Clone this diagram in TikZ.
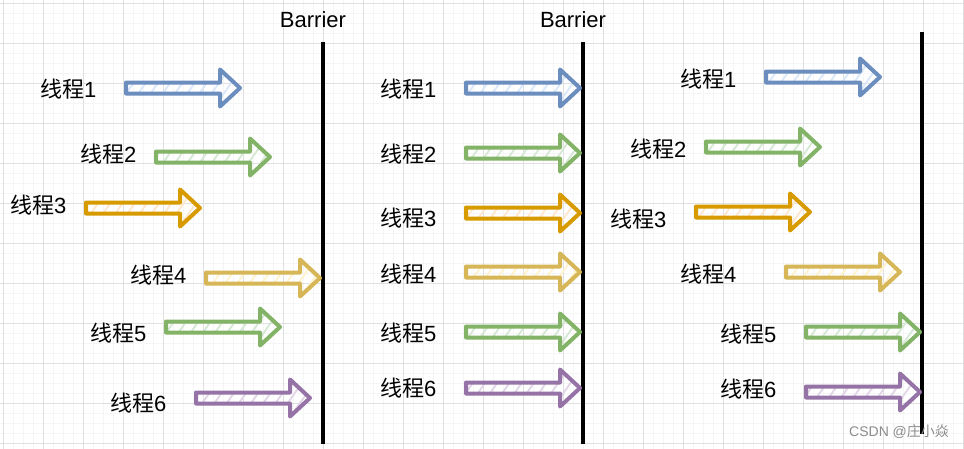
\documentclass[tikz,border=0pt]{standalone}
\usepackage{fontspec}
\setmainfont{Liberation Sans}
\newfontfamily\cjk{Noto Sans CJK SC}
\usetikzlibrary{patterns.meta,positioning}

\definecolor{bluestroke}{HTML}{6C8EBF}  \definecolor{bluefill}{HTML}{DAE8FC}
\definecolor{greenstroke}{HTML}{82B366} \definecolor{greenfill}{HTML}{D5E8D4}
\definecolor{orangestroke}{HTML}{D79B00}\definecolor{orangefill}{HTML}{FFE6CC}
\definecolor{yellowstroke}{HTML}{D6B656}\definecolor{yellowfill}{HTML}{FFF2CC}
\definecolor{purplestroke}{HTML}{9673A6}\definecolor{purplefill}{HTML}{E1D5E7}

\tikzset{
  minorgrid/.style={draw=black!4,line width=.8pt},
  majorgrid/.style={draw=black!12,line width=.8pt},
  threadlabel/.style={anchor=west,inner sep=0pt,font=\fontsize{22}{26}\selectfont},
  barrierlabel/.style={inner sep=0pt,font=\fontsize{22}{26}\selectfont},
  barrier/.style={line width=4pt,black},
  threadarrow/.style={line width=4pt,line join=round,draw=#1stroke,
    pattern={Lines[angle=55,distance=10pt,line width=1.8pt]},pattern color=#1fill}
}

% arrow with its left end at (#1,#2)
\newcommand\thrarrow[3]{%
  \draw[threadarrow=#3] (#1+2,#2-5.5) -- ++(94,0) -- ++(0,-13) -- ++(20,18.5)
    -- ++(-20,18.5) -- ++(0,-13) -- ++(-94,0) -- cycle;}

\begin{document}
\begin{tikzpicture}[x=1pt,y=-1pt]
  \useasboundingbox[fill=white] (0,0) rectangle (964,448);
  \clip (0,0) rectangle (964,448);

  % background grid
  \begin{scope}[shift={(3.5,3.5)}]
    \draw[minorgrid,step=10pt] (-10,-10) grid (970,450);
    \draw[majorgrid,step=40pt] (-40,-40) grid (1000,480);
  \end{scope}

  % barriers
  \coordinate (b1top) at (323,42);  \coordinate (b1bot) at (323,444);
  \coordinate (b2top) at (583,42);  \coordinate (b2bot) at (583,444);
  \coordinate (b3top) at (922,32);  \coordinate (b3bot) at (922,434);
  \foreach \b in {1,2,3}
    \draw[barrier] (b\b top) -- (b\b bot);
  \node[barrierlabel] (bl1) at (313,20) {Barrier};
  \node[barrierlabel] (bl2) at (573,20) {Barrier};

  % threads: number / label x / label y / arrow x / arrow y / colour
  \foreach \p/\n/\lx/\ly/\ax/\ay/\c in {
      a/1/40/89/124/88/blue, a/2/80/154/154/157/green, a/3/10/205/84/208/orange,
      a/4/130/275/204/278/yellow, a/5/90/333/164/327/green, a/6/110/403/194/398/purple,
      b/1/380/89/464/88/blue, b/2/380/154/464/153/green, b/3/380/218/464/213/orange,
      b/4/380/274/464/272/yellow, b/5/380/333/464/332/green, b/6/380/388/464/388/purple,
      c/1/680/79/764/77/blue, c/2/630/149/704/147/green, c/3/610/219/694/212/orange,
      c/4/680/274/784/272/yellow, c/5/720/334/804/332/green, c/6/720/389/804/392/purple} {
    \node[threadlabel] (t\p\n) at (\lx,\ly) {{\cjk 线程}\n};
    \thrarrow{\ax}{\ay}{\c}
  }

  \node[anchor=west,inner sep=0pt,text=black!45,font=\fontsize{14}{16}\selectfont]
    (mark) at (849,432) {CSDN @{\cjk 庄小焱}};
\end{tikzpicture}
\end{document}
